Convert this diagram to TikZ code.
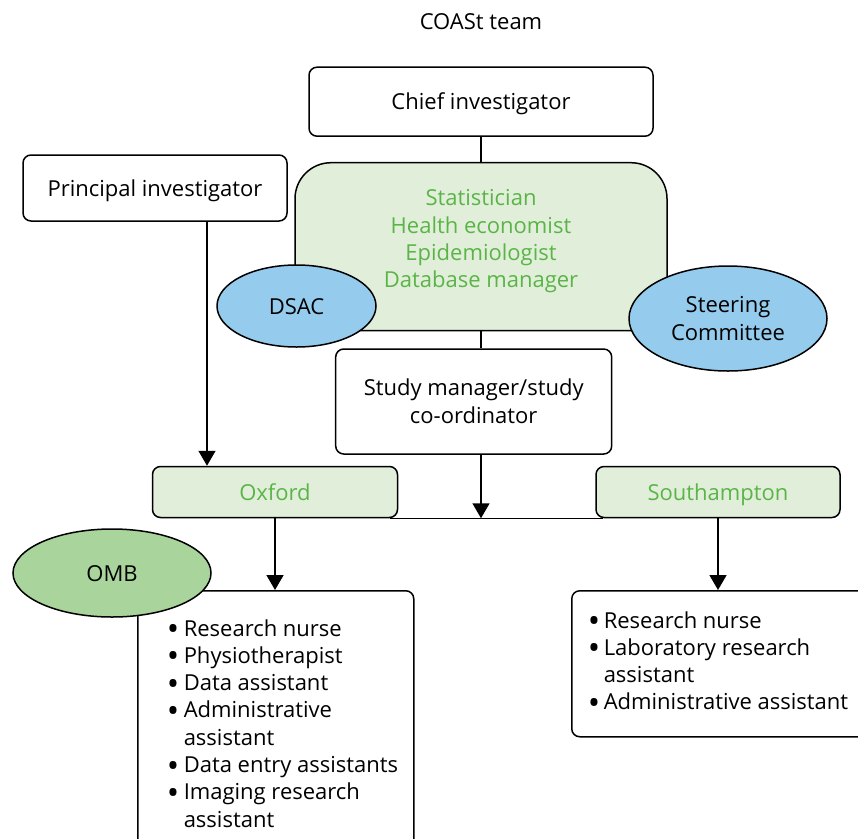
\documentclass[tikz,border=0pt]{standalone}
\usepackage{fontspec}
\setmainfont{Open Sans}
\usetikzlibrary{shapes.geometric,arrows.meta}
\definecolor{lgreen}{HTML}{E1EFDA}
\definecolor{tgreen}{HTML}{5BB448}
\definecolor{lblue}{HTML}{95CCEE}
\definecolor{mgreen}{HTML}{A9D49B}
\tikzset{
 box/.style={draw, fill=white, rounded corners=8pt, inner sep=0pt, align=center, text height=16pt, text depth=0pt},
 gbox/.style={box, fill=lgreen, text=tgreen},
 ell/.style={ellipse, draw, fill=lblue, inner sep=0pt, align=center, text height=16pt, text depth=0pt},
 arr/.style={-{Triangle[length=15pt,width=17pt]}},
 lst/.style={inner sep=0pt, anchor=base west},
}
\newcommand{\bul}[1]{\makebox[#1][l]{\smash{\raisebox{-4.5pt}{\scalebox{1.5}{\textbullet}}}}}
\begin{document}
\begin{tikzpicture}[x=1pt,y=-1pt,line width=1.5pt,font=\fontsize{22}{27.3}\selectfont]
\useasboundingbox (0,0) rectangle (858,838);
\clip (0,0) rectangle (858,838);
\node[inner sep=0pt, anchor=base] (title) at (481,29) {COASt team};
\node[box, minimum width=344, minimum height=69] (ci) at (481,101.7) {Chief investigator};
\node[box, minimum width=264, minimum height=66] (pi) at (155,188) {Principal investigator};
\node[gbox, rounded corners=36pt, minimum width=372, minimum height=168, text height=82pt] (team) at (481,246.7) {Statistician\\Health economist\\Epidemiologist\\Database manager};
\node[box, minimum width=276, minimum height=105, text height=43pt] (sm) at (473.7,401.5) {Study manager/study\\co-ordinator};
\node[gbox, minimum width=245, minimum height=51] (ox) at (275,492) {Oxford};
\node[gbox, minimum width=244, minimum height=51] (so) at (718,492) {Southampton};
\node[box, anchor=north west, minimum width=276, minimum height=300] (oxl) at (137,590) {};
\node[box, anchor=north west, minimum width=300, minimum height=146] (sol) at (571,590) {};
\draw (ci.south) -- (team.north);
\draw (team.south) -- (team.south |- sm.north);
\draw[arr] ([xshift=52pt]pi.south) -- ([xshift=52pt]pi.south |- ox.north);
\draw ([xshift=-8pt]ox.south east) -- ([xshift=8pt]so.south west);
\draw[arr] (team.south |- sm.south) -- (team.south |- ox.south);
\draw[arr] (ox.south) -- (ox.south |- oxl.north);
\draw[arr] (so.south) -- (so.south |- sol.north);
\node[ell, minimum width=159, minimum height=82] (dsac) at (296.5,306) {DSAC};
\node[ell, minimum width=198, minimum height=105, text height=43pt] (sc) at (728,318.5) {Steering\\Committee};
\node[ell, fill=mgreen, minimum width=198, minimum height=88] (omb) at (112,573) {OMB};
\node[lst] (oxt) at (166,636) {\begin{tabular}[t]{@{}l@{}l@{}}
\bul{17pt} & Research nurse\\
\bul{17pt} & Physiotherapist\\
\bul{17pt} & Data assistant\\
\bul{17pt} & Administrative\\
 & assistant\\
\bul{17pt} & Data entry assistants\\
\bul{17pt} & Imaging research\\
 & assistant
\end{tabular}};
\node[lst] (sot) at (587,628) {\begin{tabular}[t]{@{}l@{}l@{}}
\bul{16pt} & Research nurse\\
\bul{16pt} & Laboratory research\\
 & assistant\\
\bul{16pt} & Administrative assistant
\end{tabular}};
\end{tikzpicture}
\end{document}
